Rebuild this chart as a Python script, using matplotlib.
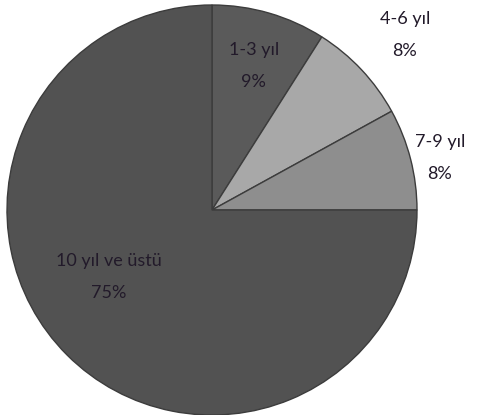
import numpy as np
import matplotlib.pyplot as plt

labels = ['1-3 yıl', '4-6 yıl', '7-9 yıl', '10 yıl ve üstü']
values = [9, 8, 8, 75]
pct_labels = ['9%', '8%', '8%', '75%']

colors = ['#5a5a5a', '#a8a8a8', '#8e8e8e', '#525252']
label_dist = [0.73, 1.27, 1.14, 0.60]
label_turn = [0, -1, -1.5, -12]   # small angle nudges, degrees

plt.rcParams['font.family'] = ['Lato', 'DejaVu Sans']

fig = plt.figure(figsize=(4.83, 4.15), dpi=100)
ax = fig.add_axes([7 / 483, 0.0, 410 / 483, 410 / 415])

wedges, _ = ax.pie(values, colors=colors, startangle=90, counterclock=False,
                   wedgeprops=dict(edgecolor='#3c3c3c', linewidth=1.0))

# put each label along the middle of its wedge
for w, lab, pct, d, t in zip(wedges, labels, pct_labels, label_dist, label_turn):
    mid = np.deg2rad((w.theta1 + w.theta2) / 2 + t)
    x, y = d * np.cos(mid), d * np.sin(mid)
    ax.text(x, y, lab + '\n' + pct, ha='center', va='center', fontsize=13,
            color='#221a2a', linespacing=2.2)

ax.set_xlim(-1, 1)
ax.set_ylim(-1, 1)
ax.set_aspect('equal')
ax.axis('off')

fig.savefig('out.png', dpi=100)
